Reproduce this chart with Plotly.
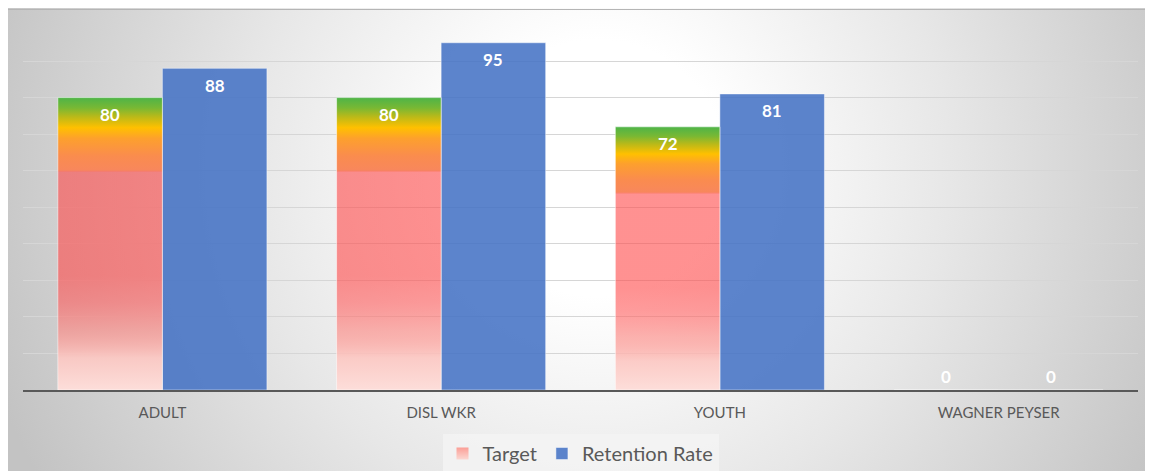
import base64
import plotly.graph_objects as go

# data
categories = ["ADULT", "DISL WKR", "YOUTH", "WAGNER PEYSER"]
target = [80, 80, 72, 0]
retention = [88, 95, 81, 0]

W, H = 1153, 471
BAR_W = 0.375

# gradient used for the "Target" bars (0 = bottom of bar, 1 = top)
TARGET_SCALE = [
    [0.0, "rgba(253,222,218,1)"],
    [0.11, "rgba(252,200,195,0.92)"],
    [0.2, "rgba(252,140,135,0.66)"],
    [0.3, "rgba(255,90,90,0.6)"],
    [0.39, "rgba(255,72,72,0.6)"],
    [0.744, "rgba(255,72,72,0.6)"],
    [0.752, "rgb(248,135,92)"],
    [0.80, "rgb(250,140,78)"],
    [0.86, "rgb(253,160,45)"],
    [0.897, "rgb(255,192,0)"],
    [0.935, "rgb(185,185,25)"],
    [0.965, "rgb(120,184,52)"],
    [1.0, "rgb(78,180,72)"],
]

# radial grey background of the chart area
svg = f"""<svg xmlns="http://www.w3.org/2000/svg" width="{W}" height="{H}" viewBox="0 0 {W} {H}" preserveAspectRatio="none">
<defs><radialGradient id="g" gradientUnits="userSpaceOnUse" cx="590" cy="160" r="640">
<stop offset="0" stop-color="#ffffff"/>
<stop offset="0.2" stop-color="#ffffff"/>
<stop offset="0.55" stop-color="#e7e7e7"/>
<stop offset="0.8" stop-color="#d3d3d3"/>
<stop offset="1" stop-color="#c3c3c3"/>
</radialGradient></defs>
<rect width="{W}" height="{H}" fill="url(#g)"/>
<line x1="0" y1="1.5" x2="{W}" y2="1.5" stroke="#b5b5b5" stroke-width="1"/>
</svg>"""
bg_uri = "data:image/svg+xml;base64," + base64.b64encode(svg.encode()).decode()

fig = go.Figure()

idx = list(range(len(categories)))
for i, v in zip(idx, target):
    fig.add_trace(go.Scatter(
        x=[i - BAR_W, i - BAR_W, i, i, i - BAR_W],
        y=[0, v, v, 0, 0],
        mode="lines", fill="toself",
        line=dict(color="rgba(255,255,255,0.5)", width=1),
        fillgradient=dict(type="vertical", colorscale=TARGET_SCALE),
        showlegend=False, hoverinfo="skip",
    ))

# legend entry for the gradient bars
fig.add_trace(go.Scatter(
    x=[None], y=[None], mode="markers", name="Target",
    marker=dict(symbol="square", size=12, color="#fb9e96",
                gradient=dict(type="vertical", color="#fbd8d2"),
                line=dict(width=0)),
))

fig.add_trace(go.Bar(
    x=idx, y=retention, offset=0, width=BAR_W,
    name="Retention Rate",
    marker=dict(color="rgba(68,114,196,0.87)",
                line=dict(color="rgba(255,255,255,0.45)", width=1)),
))

# data labels
for i, v in zip(idx, target):
    fig.add_annotation(x=i - BAR_W / 2, y=v, text=str(v), showarrow=False,
                       yshift=-17 if v else 14,
                       font=dict(family="Lato", size=17, color="white", weight="bold"))
for i, v in zip(idx, retention):
    fig.add_annotation(x=i + BAR_W / 2, y=v, text=str(v), showarrow=False,
                       yshift=-17 if v else 14,
                       font=dict(family="Lato", size=17, color="white", weight="bold"))

fig.update_layout(
    width=W, height=H,
    margin=dict(l=0, r=0, t=0, b=0),
    paper_bgcolor="white",
    plot_bgcolor="rgba(0,0,0,0)",
    font=dict(family="Lato", color="#595959"),
    barmode="overlay",
    images=[dict(source=bg_uri, xref="paper", yref="paper",
                 x=0, y=1, sizex=1, sizey=1,
                 xanchor="left", yanchor="top", sizing="stretch", layer="below")],
    legend=dict(orientation="h", x=572.5 / W, xanchor="center", y=1 - 426 / H, yanchor="top",
                bgcolor="rgba(243,243,243,0.85)", font=dict(size=20, color="#595959"),
                traceorder="normal", itemwidth=30),
    xaxis=dict(domain=[15 / W, 1130 / W], range=[-0.5, 3.5],
               tickvals=idx, ticktext=categories, showgrid=False, zeroline=False,
               showline=True, linecolor="#595959", linewidth=2,
               ticks="", ticklabelstandoff=8, tickfont=dict(size=15, color="#595959")),
    yaxis=dict(domain=[1 - 382 / H, 1 - 16.5 / H], range=[0, 100], dtick=10,
               showticklabels=False, gridcolor="#d6d6d6", gridwidth=1,
               zeroline=False, fixedrange=True),
)

fig.write_html("out.html")
